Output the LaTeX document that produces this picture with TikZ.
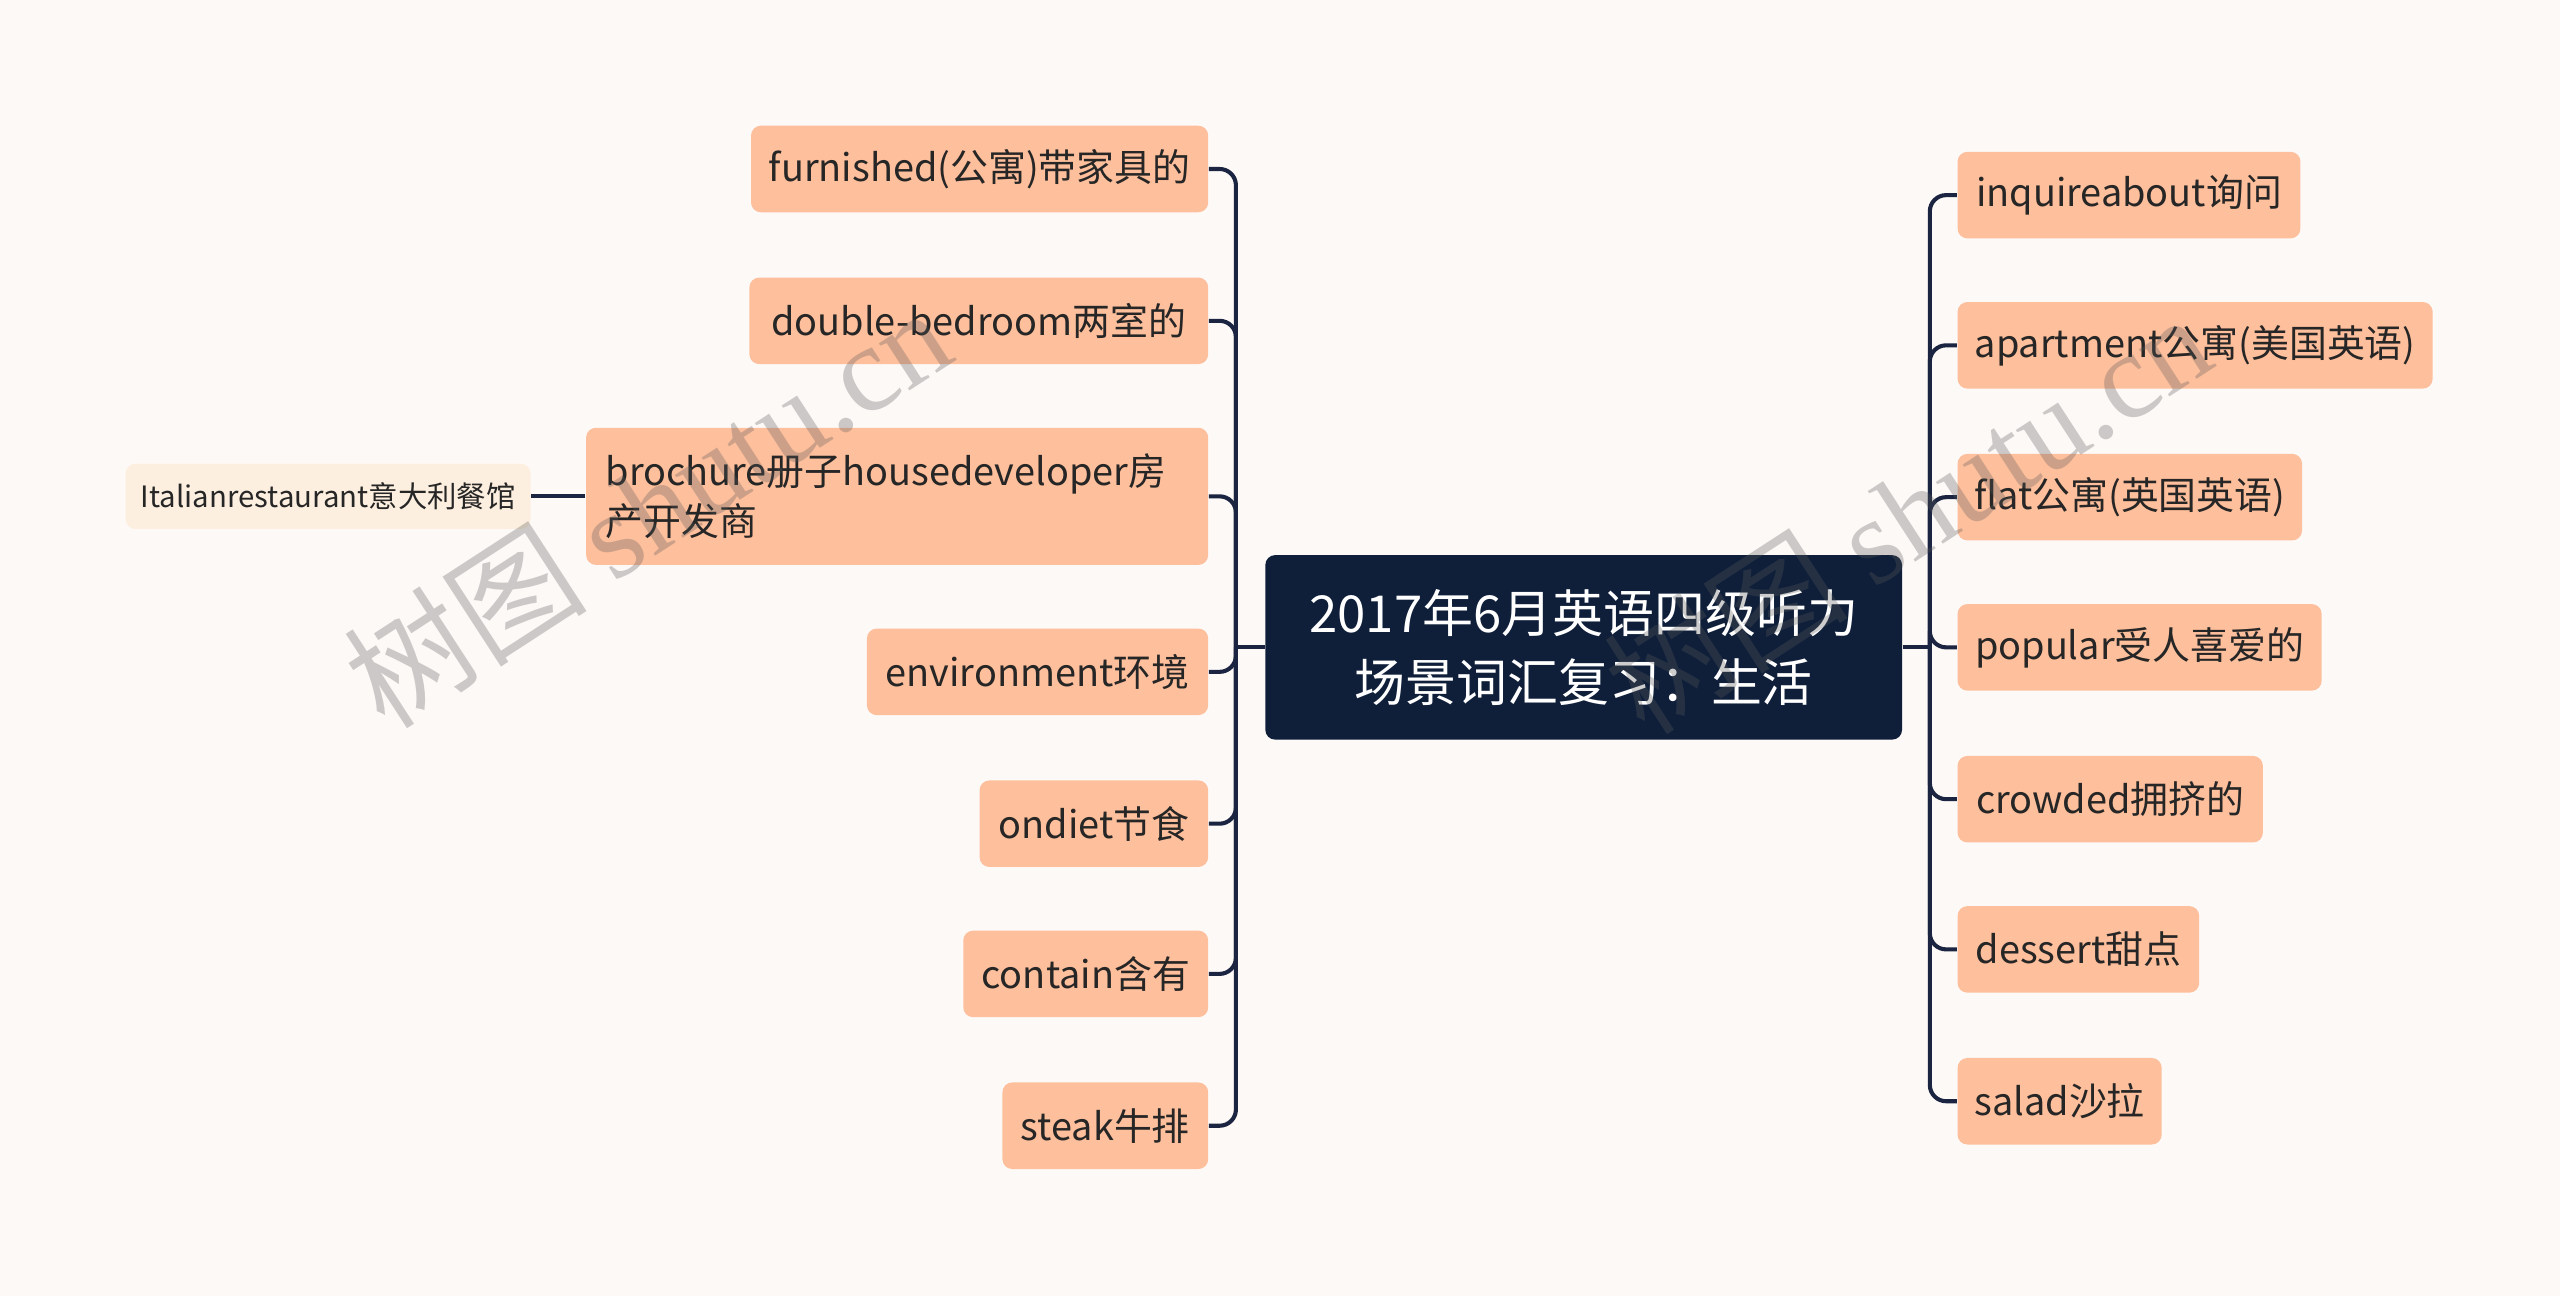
\documentclass[tikz,border=0pt]{standalone}
\usepackage{fontspec}
\setmainfont{Noto Sans CJK SC}
\newfontfamily\wmlatin{Liberation Serif}
\newfontfamily\wmcjk{Noto Sans CJK SC}
\definecolor{bgc}{HTML}{FDF9F7}
\definecolor{peach}{HTML}{FEBF9C}
\definecolor{cream}{HTML}{FDEFDF}
\definecolor{navy}{HTML}{0F1F3A}
\definecolor{linec}{HTML}{1B2440}
\definecolor{txt}{HTML}{262626}
\definecolor{wmc}{HTML}{5A5A5A}
\tikzset{
  leaf/.style={fill=peach, rounded corners=3pt, inner sep=0pt, minimum height=26.5pt,
    text=txt, font=\fontsize{11.6}{15.5}\selectfont},
  sub/.style={fill=cream, rounded corners=3pt, inner sep=0pt, minimum height=20pt,
    text=txt, font=\fontsize{9}{10.5}\selectfont},
  root/.style={fill=navy, rounded corners=3pt, inner sep=0pt, minimum width=195pt,
    minimum height=56.5pt, text=white, align=center, font=\fontsize{15.6}{21}\selectfont},
  conn/.style={draw=linec, line width=1.25pt, rounded corners=5pt},
  wm/.style={text=wmc, opacity=0.3, inner sep=0pt, font=\fontsize{37.5}{42}\selectfont}
}
\begin{document}
\begin{tikzpicture}[x=0.5pt,y=-0.5pt]
\useasboundingbox (0,0) rectangle (1568,794);
\fill[bgc] (0,0) rectangle (1568,794);

% root
\node[root] (root) at (970,396.5) {2017年6月英语四级听力\\场景词汇复习：生活};

% left children
\node[leaf, minimum width=140pt] (furn) at (600,103.5) {furnished(公寓)带家具的};
\node[leaf, minimum width=140.5pt] (dbl) at (599.5,196.5) {double-bedroom两室的};
\node[leaf, minimum width=190.5pt, minimum height=42pt, text width=178.5pt, align=left] (broc) at (549.5,304) {brochure册子housedeveloper房\\产开发商};
\node[leaf, minimum width=104.5pt] (env) at (635.5,411.5) {environment环境};
\node[leaf, minimum width=70pt] (diet) at (670,504.5) {ondiet节食};
\node[leaf, minimum width=75pt] (cont) at (665,596.5) {contain含有};
\node[leaf, minimum width=63pt] (steak) at (677,689.5) {steak牛排};
\node[sub, minimum width=124pt] (ital) at (201,304) {Italianrestaurant意大利餐馆};

% right children
\node[leaf, minimum width=105pt] (inq) at (1304,119.5) {inquireabout询问};
\node[leaf, minimum width=145.5pt] (apt) at (1344.5,211.5) {apartment公寓(美国英语)};
\node[leaf, minimum width=105.5pt] (flat) at (1304.5,304.5) {flat公寓(英国英语)};
\node[leaf, minimum width=111.5pt] (pop) at (1310.5,396.5) {popular受人喜爱的};
\node[leaf, minimum width=93.5pt] (crowd) at (1292.5,489.5) {crowded拥挤的};
\node[leaf, minimum width=74pt] (des) at (1273,581.5) {dessert甜点};
\node[leaf, minimum width=62.5pt] (sal) at (1261.5,674.5) {salad沙拉};

% trunks
\coordinate (tl) at (757,396.5);
\coordinate (tr) at (1182,396.5);
\draw[conn] (root.west) -- (tl);
\draw[conn] (root.east) -- (tr);
\foreach \n in {furn,dbl,broc,env,diet,cont,steak}{
  \draw[conn] (tl) |- (\n.east);
}
\foreach \n in {inq,apt,flat,pop,crowd,des,sal}{
  \draw[conn] (tr) |- (\n.west);
}
\draw[conn] (broc.west) -- (ital.east);

% watermarks
\node[wm, rotate=33] (wm1) at (396,310) {\wmcjk 树图 \wmlatin shutu.cn};
\node[wm, rotate=33] (wm2) at (1168,314) {\wmcjk 树图 \wmlatin shutu.cn};
\end{tikzpicture}
\end{document}
